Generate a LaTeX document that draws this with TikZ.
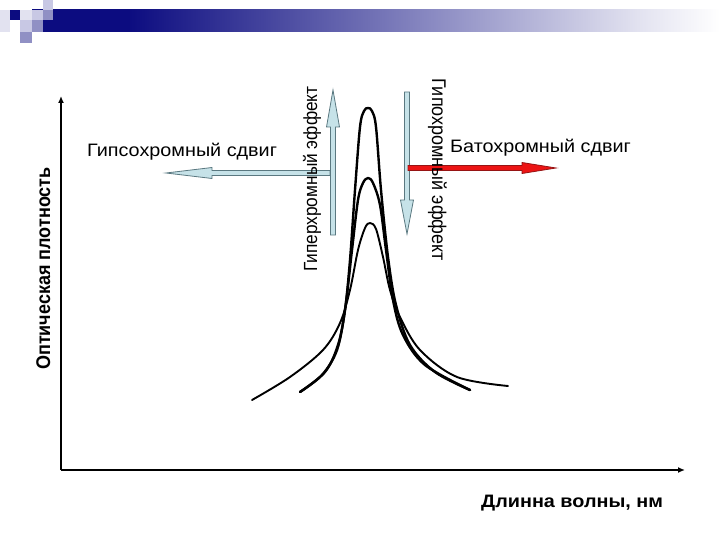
\documentclass[tikz,border=0pt]{standalone}
\usepackage{fontspec}
\setmainfont{Liberation Sans}
\usetikzlibrary{arrows.meta}
\definecolor{navy}{RGB}{12,12,128}
\definecolor{lavA}{RGB}{200,200,228}
\definecolor{lavB}{RGB}{144,144,196}
\definecolor{lavC}{RGB}{226,226,240}
\definecolor{lblue}{RGB}{198,226,232}
\definecolor{lbedge}{RGB}{90,120,128}
\definecolor{redf}{RGB}{236,20,20}
\definecolor{rededge}{RGB}{150,20,20}
\pgfdeclarehorizontalshading{barshade}{100bp}{color(0bp)=(navy); color(25bp)=(navy); color(32bp)=(navy); color(50bp)=(navy!58); color(69bp)=(navy!12); color(75bp)=(white); color(100bp)=(white)}
\newcommand{\hstr}[1]{\scalebox{1.1}[1]{#1}}
\newcommand{\vstr}[1]{\scalebox{1}[1.1]{#1}}
\tikzset{
  lbarrow/.style={fill=lblue, draw=lbedge, line width=0.8pt, line join=miter},
  rdarrow/.style={fill=redf, draw=rededge, line width=0.8pt},
  lbl/.style={inner sep=0pt, font=\fontsize{18}{20}\selectfont},
  axlbl/.style={inner sep=0pt, font=\fontsize{18}{20}\selectfont\bfseries},
  curve/.style={line width=2.4pt, line cap=round, line join=round},
  axis/.style={-{Latex[length=7pt,width=6pt]}}
}
\begin{document}
\begin{tikzpicture}[x=1pt,y=-1pt]
\useasboundingbox (0,0) rectangle (720,540);
% header bar
\shade[shading=barshade] (32,10) rectangle (720,32);
\fill[lavC] (0,10) rectangle (10,32);
\fill[navy] (10,10) rectangle (20,20);
\fill[lavC] (20,10) rectangle (32,20);
\fill[lavA] (20,20) rectangle (32,32);
\fill[lavA] (32,10) rectangle (43,20);
\fill[lavB] (32,20) rectangle (43,32);
\fill[lavA] (43,0) rectangle (53,10);
\fill[lavB] (43,10) rectangle (53,20);
\fill[lavB] (20,32) rectangle (32,43);
% axes
\coordinate (O) at (61,470);
\coordinate (Ytip) at (61,96);
\coordinate (Xtip) at (685,470);
\draw[axis, line width=2pt] (O) -- (Ytip);
\draw[axis, line width=1.5pt] (O) -- (Xtip);
% curves
\draw[curve, line width=1.9pt] plot[smooth, tension=0.55] coordinates {(252,400) (290,377) (323,350) (340,323) (350,290) (358,250) (365,228) (370,223) (376,229) (383,257) (390,290) (400,317) (420,350) (457,377) (508,386)};
\draw[curve] plot[smooth, tension=0.55] coordinates {(300,392) (322,375) (337,350) (345,310) (352,250) (358,200) (363,183) (368,178) (373,183) (380,205) (386,250) (393,300) (403,335) (425,365) (470,390)};
\draw[curve] plot[smooth, tension=0.55] coordinates {(300,392) (325,372) (338,345) (345,310) (350,260) (355,190) (360,127) (364,111) (368,108) (372,111) (376,127) (381,190) (388,257) (396,305) (410,345) (435,372) (470,390)};
% arrows
\draw[lbarrow] (330,170.5) -- (212,170.5) -- (212,167.5) -- (166,173) -- (212,178.5) -- (212,175.5) -- (330,175.5) -- cycle;
\draw[lbarrow] (330.5,235) -- (330.5,127) -- (326.5,127) -- (333,90) -- (339.5,127) -- (335.5,127) -- (335.5,235) -- cycle;
\draw[lbarrow] (404.5,92) -- (404.5,200) -- (400.5,200) -- (407,234) -- (413.5,200) -- (409.5,200) -- (409.5,92) -- cycle;
\draw[rdarrow] (408,165.5) -- (522,165.5) -- (522,162.5) -- (556,168) -- (522,173.5) -- (522,170.5) -- (408,170.5) -- cycle;
% labels
\node[lbl, anchor=base west] (hypso) at (87,157) {\hstr{Гипсохромный сдвиг}};
\node[lbl, anchor=base west] (batho) at (450,153) {\hstr{Батохромный сдвиг}};
\node[lbl, anchor=base west, rotate=90, font=\fontsize{17.3}{20}\selectfont] (hyper) at (317,272) {\vstr{Гиперхромный эффект}};
\node[lbl, anchor=base west, rotate=-90] (hypo) at (432,78) {\vstr{Гипохромный эффект}};
\node[axlbl, anchor=base west, rotate=90] (ylab) at (50,370) {\vstr{Оптическая плотность}};
\node[axlbl, anchor=base west] (xlab) at (481,507) {\hstr{Длинна волны, нм}};
\end{tikzpicture}
\end{document}
